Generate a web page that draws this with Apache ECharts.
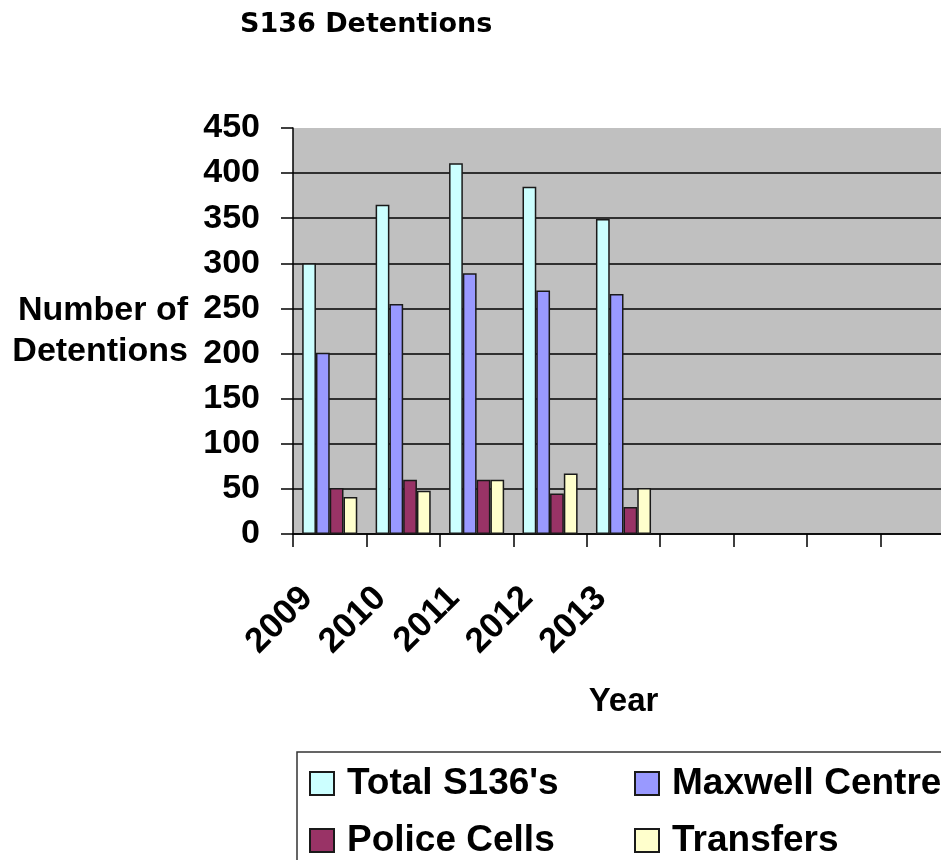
<!DOCTYPE html>
<html>
<head>
<meta charset="utf-8">
<script src="https://cdn.jsdelivr.net/npm/echarts@6/dist/echarts.min.js"></script>
<style>
  html, body { margin: 0; padding: 0; background: #fff; }
  #chart { width: 941px; height: 860px; }
</style>
</head>
<body>
<div id="chart"></div>
<script>
// ---- data ----
var categories = ['2009', '2010', '2011', '2012', '2013', '', '', '', ''];
var totalS136 = [300, 365, 411, 385, 349];
var maxwellCentre = [201, 255, 289, 270, 266];
var policeCells = [51, 60, 60, 45, 30];
var transfers = [41, 48, 60, 67, 51];
var seriesNames = ["Total S136's", 'Maxwell Centre', 'Police Cells', 'Transfers'];
var yTicks = { min: 0, max: 450, interval: 50 };

var FONT = "'Liberation Sans', Arial, sans-serif";
var chart = echarts.init(document.getElementById('chart'), null, { renderer: 'canvas' });

function barSeries(name, data, color) {
  return {
    name: name,
    type: 'bar',
    data: data,
    barGap: '0%',
    barCategoryGap: '25%',
    itemStyle: { color: color, borderColor: '#1a1a1a', borderWidth: 1.5 },
    emphasis: { disabled: true },
    animation: false
  };
}

var legendText = { fontFamily: FONT, fontWeight: 'bold', fontSize: 37, color: '#000', lineHeight: 23, padding: [0, 0, 0, 8] };

function legendBlock(names, left) {
  return {
    data: names,
    orient: 'vertical',
    left: left, top: 765,
    width: 320, height: 200,
    padding: 0,
    itemWidth: 24, itemHeight: 23, itemGap: 20,
    icon: 'rect',
    textStyle: legendText,
    selectedMode: false
  };
}

chart.setOption({
  animation: false,
  title: {
    text: 'S136 Detentions',
    left: 240,
    top: 11,
    padding: 0,
    textStyle: { fontFamily: "'DejaVu Sans', sans-serif", fontWeight: 'bold', fontSize: 27, color: '#000' }
  },
  legend: [
    legendBlock([seriesNames[0], seriesNames[2]], 309),
    legendBlock([seriesNames[1], seriesNames[3]], 634)
  ],
  graphic: [
    {
      type: 'rect',
      shape: { x: 297, y: 752, width: 700, height: 200 },
      style: { fill: 'none', stroke: '#333', lineWidth: 1.5 },
      z: 0
    }
  ],
  grid: {
    left: 293, top: 128, width: 661, height: 406,
    show: true, backgroundColor: '#C0C0C0', borderWidth: 0,
    containLabel: false,
    outerBoundsMode: 'none'
  },
  xAxis: {
    type: 'category',
    data: categories,
    name: 'Year',
    nameLocation: 'middle',
    nameGap: 151,
    nameTextStyle: { fontFamily: FONT, fontWeight: 'bold', fontSize: 33, color: '#000' },
    axisLine: { lineStyle: { color: '#000', width: 1.5 } },
    axisTick: { show: true, length: 13, interval: 0, lineStyle: { color: '#000', width: 1.5 } },
    axisLabel: {
      interval: 0, rotate: 45, margin: 36,
      padding: [0, 32, 0, 0],
      fontFamily: FONT, fontWeight: 'bold', fontSize: 35, color: '#000'
    },
    splitLine: { show: false }
  },
  yAxis: {
    type: 'value',
    min: yTicks.min, max: yTicks.max, interval: yTicks.interval,
    name: 'Number of\nDetentions',
    nameLocation: 'middle',
    nameRotate: 0,
    nameGap: 105,
    nameTextStyle: { fontFamily: FONT, fontWeight: 'bold', fontSize: 34, color: '#000', align: 'right', verticalAlign: 'middle', lineHeight: 41 },
    axisLine: { show: true, lineStyle: { color: '#000', width: 1.5 } },
    axisTick: { show: true, length: 12, lineStyle: { color: '#000', width: 1.5 } },
    axisLabel: { margin: 33, fontFamily: FONT, fontWeight: 'bold', fontSize: 34, color: '#000' },
    splitLine: { show: true, showMaxLine: false, lineStyle: { color: '#000', width: 1.5 } }
  },
  series: [
    barSeries(seriesNames[0], totalS136, '#CCFFFF'),
    barSeries(seriesNames[1], maxwellCentre, '#9999FF'),
    barSeries(seriesNames[2], policeCells, '#993366'),
    barSeries(seriesNames[3], transfers, '#FFFFCC')
  ]
});
</script>
</body>
</html>
